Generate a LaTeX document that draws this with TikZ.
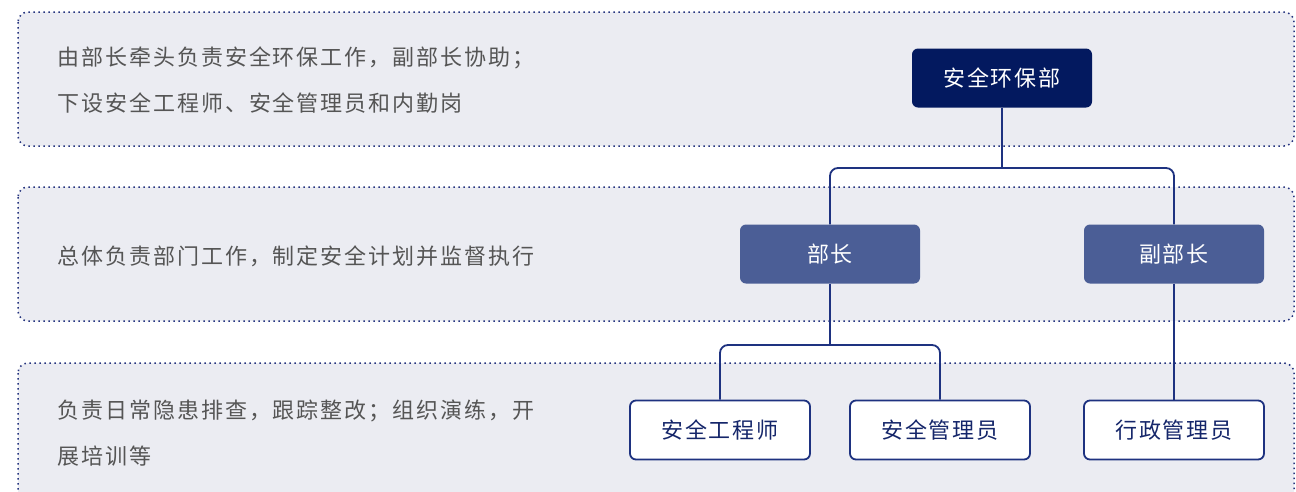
\documentclass[tikz,border=0pt]{standalone}
\usepackage{fontspec}
\newfontfamily\cjk[LetterSpace=9]{Noto Sans CJK SC}
\definecolor{bandfill}{HTML}{EBECF2}
\definecolor{banddot}{HTML}{24337E}
\definecolor{topfill}{HTML}{03195F}
\definecolor{midfill}{HTML}{4B5E96}
\definecolor{linecol}{HTML}{1E3280}
\definecolor{txtgray}{HTML}{555555}
\definecolor{navytxt}{HTML}{15266A}
\tikzset{
  band/.style={fill=bandfill, draw=banddot, line width=1.5pt, dash pattern=on 1.5pt off 3.5pt, rounded corners=10pt},
  desc/.style={anchor=west, align=left, text=txtgray, inner sep=0pt, font=\cjk\fontsize{22}{46}\selectfont},
  box/.style={minimum width=180pt, minimum height=59pt, inner sep=0pt, rounded corners=6pt, font=\cjk\fontsize{22}{26}\selectfont},
  topbox/.style={box, fill=topfill, text=white},
  midbox/.style={box, fill=midfill, text=white},
  leafbox/.style={box, fill=white, draw=linecol, line width=1.8pt, text=navytxt},
  conn/.style={draw=linecol, line width=1.8pt, rounded corners=8pt}
}
\begin{document}
\begin{tikzpicture}[x=1pt,y=-1pt]
\useasboundingbox (0,0) rectangle (1296,491);
\begin{scope}
\clip (0,0) rectangle (1296,491);
\draw[band] (18,12) rectangle (1294,146);
\draw[band] (18,187) rectangle (1294,321);
\draw[band] (18,363) rectangle (1294,530);
\end{scope}
\node[desc] (d1) at (57,80) {由部长牵头负责安全环保工作，副部长协助；\\下设安全工程师、安全管理员和内勤岗};
\node[desc] (d2) at (57,256) {总体负责部门工作，制定安全计划并监督执行};
\node[desc] (d3) at (57,433) {负责日常隐患排查，跟踪整改；组织演练，开\\展培训等};

\node[topbox] (top) at (1002,78) {安全环保部};
\node[midbox] (bz) at (830,254) {部长};
\node[midbox] (fbz) at (1174,254) {副部长};
\node[leafbox] (a) at (720,430) {安全工程师};
\node[leafbox] (b) at (940,430) {安全管理员};
\node[leafbox] (c) at (1174,430) {行政管理员};

\coordinate (j1) at (1002,168);
\coordinate (j2) at (830,345);
\draw[conn] (top.south) -- (j1);
\draw[conn] (bz.north) |- (fbz.north |- j1) -- (fbz.north);
\draw[conn] (bz.south) -- (j2);
\draw[conn] (a.north) |- (b.north |- j2) -- (b.north);
\draw[conn] (fbz.south) -- (c.north);
\end{tikzpicture}
\end{document}
